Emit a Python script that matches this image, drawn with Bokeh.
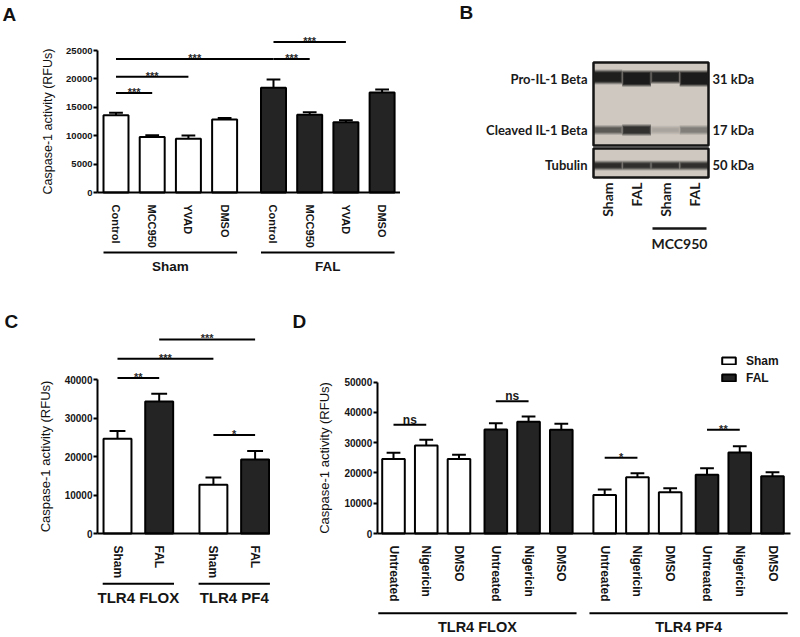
import math
from bokeh.plotting import figure
from bokeh.models import (Range1d, LinearAxis, FixedTicker, Label, Legend,
                          LegendItem, ColumnDataSource)
from bokeh.layouts import row, column
from bokeh.embed import file_html
from bokeh.resources import INLINE
from bokeh.core.properties import value

ARIAL = "Liberation Sans"
BLOT_FONT = "Lato"
WHITE = "#ffffff"
DARK = "#242424"

# ---------------- data ----------------
# Panel A
a_treatments = ["Control", "MCC950", "YVAD", "DMSO", "Control", "MCC950", "YVAD", "DMSO"]
a_group_names = ["Sham", "FAL"]
a_group_index = [0, 0, 0, 0, 1, 1, 1, 1]
a_means = [13600, 9750, 9450, 12850, 18450, 13700, 12350, 17600]
a_sem = [450, 320, 600, 250, 1450, 450, 350, 550]
a_sig = [(0, 1, 17500, "***"), (0, 2, 20400, "***"), (0, 4, 23500, "***"),
         (4, 5, 23500, "***"), (4, 6, 26500, "***")]
a_yticks = [0, 5000, 10000, 15000, 20000, 25000]

# Panel B (western blot, relative band intensities 0..1)
b_lanes = ["Sham", "FAL", "Sham", "FAL"]
b_rows = ["Pro-IL-1 Beta", "Cleaved IL-1 Beta", "Tubulin"]
b_sizes = ["31 kDa", "17 kDa", "50 kDa"]
b_pro = [0.95, 0.97, 0.93, 0.97]
b_cleaved = [0.62, 0.85, 0.2, 0.42]
b_tubulin = [0.88, 0.86, 0.86, 0.86]
b_treated_lanes = [2, 3]
b_treatment = "MCC950"

# Panel C
c_conditions = ["Sham", "FAL", "Sham", "FAL"]
c_group_names = ["TLR4 FLOX", "TLR4 PF4"]
c_group_index = [0, 0, 1, 1]
c_means = [24600, 34300, 12650, 19250]
c_sem = [2000, 2000, 1900, 2150]
c_sig = [(0, 1, 40400, "**"), (0, 2, 45400, "***"), (1, 3, 50400, "***"), (2, 3, 25600, "*")]
c_yticks = [0, 10000, 20000, 30000, 40000]

# Panel D
d_treatments = ["Untreated", "Nigericin", "DMSO"] * 4
d_conditions = ["Sham"] * 3 + ["FAL"] * 3 + ["Sham"] * 3 + ["FAL"] * 3
d_group_names = ["TLR4 FLOX", "TLR4 PF4"]
d_group_index = [0] * 6 + [1] * 6
d_means = [24650, 29050, 24650, 34350, 36900, 34250, 12750, 18600, 13650, 19400, 26750, 18950]
d_sem = [2000, 1900, 1350, 2100, 1800, 2000, 1750, 1300, 1300, 2200, 2100, 1300]
d_sig = [(0, 1, 35900, "ns"), (3, 4, 43700, "ns"), (6, 7, 25000, "*"), (9, 10, 34250, "**")]
d_yticks = [0, 10000, 20000, 30000, 40000, 50000]

Y_TITLE = "Caspase-1 activity (RFUs)"


def axis_map(p0, v0, p1, v1):
    k = (v1 - v0) / (p1 - p0)
    return lambda px: v0 + (px - p0) * k


def base_fig(W, H, xr, yr):
    p = figure(width=W, height=H, x_range=xr, y_range=yr, output_backend="svg",
               toolbar_location=None, x_axis_type=None, y_axis_type=None, min_border=0)
    p.outline_line_color = None
    p.background_fill_color = None
    p.border_fill_color = None
    return p


def bar_panel(W, H, letter, letter_xy, labels, group_idx, group_names, pos, means, sem,
              colors, sig, yticks, xm, ym, yaxis_px, xaxis_end_px, bw, capw,
              gline_px, glabel_px, glabel_base, gext, fs, ylabel_standoff):
    fx = axis_map(*xm)
    fy = axis_map(*ym)
    p = base_fig(W, H, Range1d(fx(0), fx(W)), Range1d(fy(H), fy(0)))

    src = ColumnDataSource(dict(x=pos, top=means, color=colors))
    bars = p.vbar(x="x", top="top", width=bw, bottom=0, source=src, fill_color="color",
                  line_color="black", line_width=2)

    tops = [m + s for m, s in zip(means, sem)]
    p.segment(x0=pos, y0=means, x1=pos, y1=tops, line_color="black", line_width=2)
    p.segment(x0=[x - capw / 2 for x in pos], y0=tops, x1=[x + capw / 2 for x in pos], y1=tops,
              line_color="black", line_width=2)

    # significance brackets
    sx0 = [pos[i] for i, j, y, t in sig]
    sx1 = [pos[j] for i, j, y, t in sig]
    sy = [y for i, j, y, t in sig]
    p.segment(x0=sx0, y0=sy, x1=sx1, y1=sy, line_color="black", line_width=2)
    stars = [k for k, s in enumerate(sig) if s[3] != "ns"]
    nss = [k for k, s in enumerate(sig) if s[3] == "ns"]
    if stars:
        p.text(x=[(sx0[k] + sx1[k]) / 2 for k in stars], y=[sy[k] for k in stars],
               text=[sig[k][3] for k in stars], text_align="center", text_baseline="alphabetic",
               y_offset=-1, text_font=value(ARIAL), text_font_size=fs["star"],
               text_font_style="bold", text_color="#2a2a2a")
    if nss:
        p.text(x=[(sx0[k] + sx1[k]) / 2 for k in nss], y=[sy[k] for k in nss],
               text=[sig[k][3] for k in nss], text_align="center", text_baseline="alphabetic",
               y_offset=-5, text_font=value(ARIAL), text_font_size=fs["ns"],
               text_font_style="bold", text_color="#1a1a1a")

    # axes
    xa = LinearAxis(fixed_location=0, bounds=(fx(yaxis_px), fx(xaxis_end_px)),
                    ticker=FixedTicker(ticks=pos),
                    major_label_overrides={x: lab for x, lab in zip(pos, labels)})
    xa.axis_line_width = 2
    xa.axis_line_color = "black"
    xa.major_tick_line_color = None
    xa.minor_tick_line_color = None
    xa.major_label_orientation = "vertical"
    xa.major_label_standoff = 6
    xa.major_label_text_font = ARIAL
    xa.major_label_text_font_style = "bold"
    xa.major_label_text_font_size = fs["xtick"]
    xa.major_label_text_color = "#151515"
    p.add_layout(xa, "below")

    ya = LinearAxis(fixed_location=fx(yaxis_px), bounds=(0, yticks[-1]),
                    ticker=FixedTicker(ticks=yticks, minor_ticks=[]))
    ya.axis_label = Y_TITLE
    ya.axis_label_text_font = ARIAL
    ya.axis_label_text_font_style = "normal"
    ya.axis_label_text_font_size = fs["ylabel"]
    ya.axis_label_text_color = "#111111"
    ya.axis_label_standoff = ylabel_standoff
    ya.axis_line_width = 2
    ya.axis_line_color = "black"
    ya.major_tick_in = 0
    ya.major_tick_out = 4
    ya.major_tick_line_width = 2
    ya.minor_tick_line_color = None
    ya.major_label_standoff = 1
    ya.major_label_text_font = ARIAL
    ya.major_label_text_font_style = "bold"
    ya.major_label_text_font_size = fs["ytick"]
    ya.major_label_text_color = "#151515"
    p.add_layout(ya, "left")

    # group underlines and names
    gx0, gx1, gxc = [], [], []
    for g in range(len(group_names)):
        idx = [k for k, gi in enumerate(group_idx) if gi == g]
        a = pos[idx[0]] - bw / 2 - gext
        b = pos[idx[-1]] + bw / 2 + gext
        gx0.append(a)
        gx1.append(b)
        gxc.append((a + b) / 2)
    gy = fy(gline_px)
    p.segment(x0=gx0, y0=[gy] * len(gx0), x1=gx1, y1=[gy] * len(gx0), line_color="black",
              line_width=2)
    p.text(x=gxc, y=[fy(glabel_px)] * len(gxc), text=group_names, text_align="center",
           text_baseline=glabel_base, text_font=value(ARIAL), text_font_style="bold",
           text_font_size=fs["group"], text_color="#151515")

    p.add_layout(Label(x=letter_xy[0], y=H - letter_xy[1], x_units="screen", y_units="screen",
                       text=letter, text_font=ARIAL, text_font_style="bold",
                       text_font_size="19px", text_baseline="top", text_color="#111111"))
    return p, bars


# ---------------- Panel A ----------------
a_pos = [k + 0.35 * g for k, g in enumerate(a_group_index)]
a_colors = [WHITE if g == 0 else DARK for g in a_group_index]
pA, _ = bar_panel(400, 306, "A", (2, 3.5), a_treatments, a_group_index, a_group_names, a_pos,
                  a_means, a_sem, a_colors, a_sig, a_yticks,
                  xm=(115.5, 0, 381.6, a_pos[-1]), ym=(192, 0, 50, 25000),
                  yaxis_px=97, xaxis_end_px=400, bw=0.69, capw=0.38,
                  gline_px=252, glabel_px=266, glabel_base="middle", gext=0.0,
                  fs=dict(star="11px", ns="12px", xtick="11px", ytick="9.5px",
                          ylabel="12.5px", group="13.5px"), ylabel_standoff=8)

# ---------------- Panel C ----------------
c_pos = [k + 0.3 * g for k, g in enumerate(c_group_index)]
c_colors = [WHITE if c == "Sham" else DARK for c in c_conditions]
pC, _ = bar_panel(270, 331, "C", (4, 4.6), c_conditions, c_group_index, c_group_names, c_pos,
                  c_means, c_sem, c_colors, c_sig, c_yticks,
                  xm=(117, 0, 254.6, c_pos[-1]), ym=(227, 0, 73, 40000),
                  yaxis_px=97, xaxis_end_px=270, bw=0.67, capw=0.38,
                  gline_px=277.3, glabel_px=290.7, glabel_base="middle", gext=0.02,
                  fs=dict(star="11px", ns="12px", xtick="12px", ytick="10px", ylabel="13px",
                          group="15px"), ylabel_standoff=9)

# ---------------- Panel D ----------------
d_pos = [k + 0.125 * (k // 3) + 0.2 * g for k, g in enumerate(d_group_index)]
d_colors = [WHITE if c == "Sham" else DARK for c in d_conditions]
pD, d_bars = bar_panel(530, 331, "D", (22, 4.6), d_treatments, d_group_index, d_group_names,
                       d_pos, d_means, d_sem, d_colors, d_sig, d_yticks,
                       xm=(123, 0, 502, d_pos[-1]), ym=(227, 0, 75.7, 50000),
                       yaxis_px=106.7, xaxis_end_px=520, bw=0.69, capw=0.42,
                       gline_px=306.7, glabel_px=320.7, glabel_base="middle", gext=0.12,
                       fs=dict(star="11px", ns="12px", xtick="12px", ytick="10px",
                               ylabel="13px", group="14.5px"), ylabel_standoff=10)

legend = Legend(items=[LegendItem(label="Sham", renderers=[d_bars], index=0),
                       LegendItem(label="FAL", renderers=[d_bars], index=3)],
                location=(450, 251), glyph_width=17, glyph_height=9, label_height=17,
                label_standoff=9, padding=0, margin=0, spacing=0, border_line_color=None,
                background_fill_alpha=0, label_text_font=ARIAL, label_text_font_style="bold",
                label_text_font_size="12px", label_text_color="#151515")
pD.add_layout(legend)

# ---------------- Panel B (blot) ----------------
WB, HB = 400, 306
pB = base_fig(WB, HB, Range1d(0, WB), Range1d(HB, 0))
BG = (206, 200, 192)
INK = (22, 22, 22)


def band_color(level):
    c = [round(b + (i - b) * level) for b, i in zip(BG, INK)]
    return "#%02x%02x%02x" % tuple(c)


box_l, box_r = 193, 308
blot_top, blot_bot = 62, 145
tub_top, tub_bot = 148, 177
lane_w = (box_r - box_l) / len(b_lanes)
lane_x = [box_l + (k + 0.5) * lane_w for k in range(len(b_lanes))]

pB.quad(left=[box_l, box_l], right=[box_r, box_r], top=[blot_top, tub_top],
        bottom=[blot_bot, tub_bot], fill_color=band_color(0.0), line_color=None)

# band geometry: (levels, per-lane centre y, per-lane height)
band_rows = [(b_pro, [76.5, 78.0, 76.5, 78.0], [11, 13, 10, 13]),
             (b_cleaved, [129.5, 129.5, 129.5, 129.5], [6, 8, 5, 6]),
             (b_tubulin, [165.0, 165.0, 165.0, 165.0], [6, 6, 6, 6])]
layers = [(0.5, 4, 0.25), (0.5, 2, 0.55), (0.48, 0, 0.85), (0.45, -2, 1.0)]
for levels, ycs, hts in band_rows:
    for wf, dh, lf in layers:
        pB.quad(left=[x - lane_w * wf for x in lane_x], right=[x + lane_w * wf for x in lane_x],
                top=[yc - (h + dh) / 2 for yc, h in zip(ycs, hts)],
                bottom=[yc + (h + dh) / 2 for yc, h in zip(ycs, hts)],
                fill_color=[band_color(l * lf) for l in levels], line_color=None)

pB.quad(left=[box_l, box_l], right=[box_r, box_r], top=[blot_top, tub_top],
        bottom=[blot_bot, tub_bot], fill_color=None, line_color="#151515", line_width=2.5)

row_y = [78.5, 129.5, 164.5]
pB.text(x=[box_l - 6] * 3, y=row_y, text=b_rows, text_align="right", text_baseline="middle",
        text_font=value(BLOT_FONT), text_font_style="bold", text_font_size="13px",
        text_color="#1a1a1a")
pB.text(x=[box_r + 4] * 3, y=row_y, text=b_sizes, text_align="left", text_baseline="middle",
        text_font=value(BLOT_FONT), text_font_style="bold", text_font_size="13px",
        text_color="#1a1a1a")
pB.text(x=lane_x, y=[tub_bot + 5] * len(lane_x), text=b_lanes, angle=math.pi / 2,
        text_align="right", text_baseline="middle", text_font=value(BLOT_FONT),
        text_font_style="bold", text_font_size="14px", text_color="#1a1a1a")
t0 = lane_x[b_treated_lanes[0]] - lane_w / 2 + 1.5
t1 = lane_x[b_treated_lanes[-1]] + lane_w / 2 - 2
pB.segment(x0=[t0], y0=[228], x1=[t1], y1=[228], line_color="#151515", line_width=2.5)
pB.text(x=[(t0 + t1) / 2], y=[243], text=[b_treatment], text_align="center",
        text_baseline="middle", text_font=value(BLOT_FONT), text_font_style="bold",
        text_font_size="14px", text_color="#1a1a1a")
pB.add_layout(Label(x=59, y=HB - 1.5, x_units="screen", y_units="screen", text="B",
                    text_font=ARIAL, text_font_style="bold", text_font_size="19px",
                    text_baseline="top", text_color="#111111"))

layout = column(row(pA, pB, spacing=0), row(pC, pD, spacing=0), spacing=0)
open("out.html", "w").write(file_html(layout, INLINE))
